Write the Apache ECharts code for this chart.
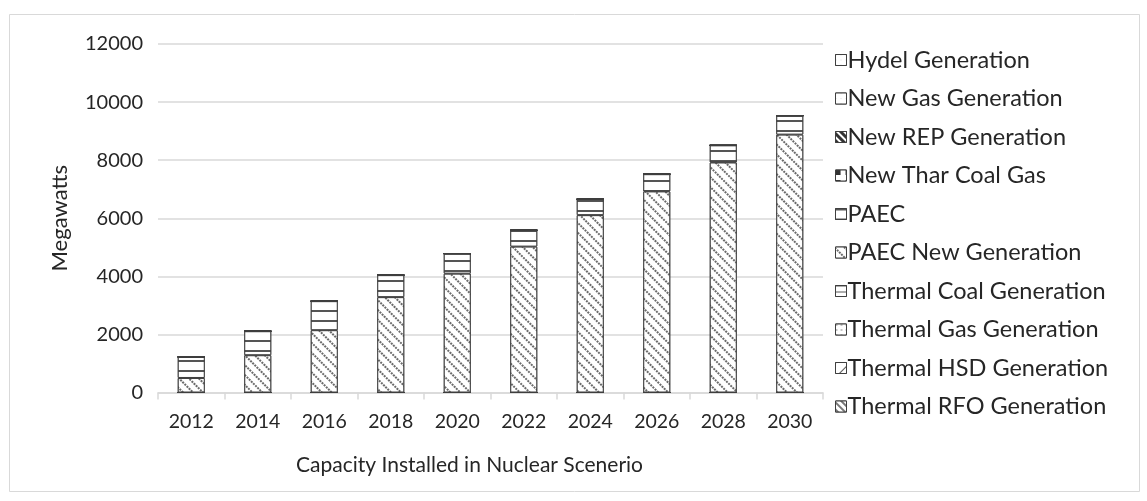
<!DOCTYPE html>
<html>
<head>
<meta charset="utf-8">
<script src="https://cdn.jsdelivr.net/npm/echarts@6/dist/echarts.min.js"></script>
<style>
html,body{margin:0;padding:0;background:#fff;}
#chart{width:1147px;height:501px;}
</style>
</head>
<body>
<div id="chart"></div>
<script>
// ---- data ----
const years = ['2012','2014','2016','2018','2020','2022','2024','2026','2028','2030'];
const legendOrder = ['Hydel Generation','New Gas Generation','New REP Generation','New Thar Coal Gas','PAEC','PAEC New Generation','Thermal Coal Generation','Thermal Gas Generation','Thermal HSD Generation','Thermal RFO Generation'];
const thermalRFO   = [0,0,0,0,0,0,0,0,0,0];
const thermalHSD   = [0,0,0,0,0,0,0,0,0,0];
const thermalGas   = [0,0,0,0,0,0,0,0,0,0];
const thermalCoal  = [0,0,0,0,0,0,0,0,0,0];
const paecNew      = [500,1283,2145,3283,4093,5024,6107,6924,7920,8880];
const paec         = [724,827,1000,758,690,562,548,593,590,654];
const newThar      = [0,0,0,0,0,0,0,0,0,0];
const newREP       = [0,0,0,0,0,0,0,0,0,0];
const newGas       = [0,0,0,0,0,0,0,0,0,0];
const hydel        = [0,0,0,0,0,0,0,0,0,0];
const yTicks = {min:0, max:12000, interval:2000};

const FONT = 'Lato';
const TXT = '#262626';
const chart = echarts.init(document.getElementById('chart'), null, {renderer:'canvas'});

function dec(o){ return Object.assign({symbol:'rect', symbolSize:1, color:'#5a5a5a', backgroundColor:'#ffffff'}, o); }
const decals = {
  'Thermal RFO Generation': dec({dashArrayX:[[1,0]], dashArrayY:[1.2,2.5], rotation:Math.PI/4, color:'#777'}),
  'Thermal HSD Generation': dec({dashArrayX:[[1,0]], dashArrayY:[1,9], rotation:-Math.PI/4}),
  'Thermal Gas Generation': dec({symbol:'circle', symbolSize:0.8, dashArrayX:[2,3], dashArrayY:[2,3], color:'#777'}),
  'Thermal Coal Generation': dec({dashArrayX:[[1,0]], dashArrayY:[1,5]}),
  'PAEC New Generation': dec({dashArrayX:[[2,1]], dashArrayY:[1.3,4.2], rotation:Math.PI/4, color:'#6a6a6a'}),
  'PAEC': dec({dashArrayX:[[1,0]], dashArrayY:[1.2,7.3], color:'#555'}),
  'New Thar Coal Gas': dec({dashArrayX:[5,5], dashArrayY:[5,5], color:'#333'}),
  'New REP Generation': dec({dashArrayX:[[1,0]], dashArrayY:[3,2], rotation:Math.PI/4, color:'#333'}),
  'New Gas Generation': dec({symbol:'circle', symbolSize:0.6, dashArrayX:[1,4], dashArrayY:[1,4], color:'#666'}),
  'Hydel Generation': dec({symbol:'circle', symbolSize:0.6, dashArrayX:[1,4], dashArrayY:[1,4], color:'#666'})
};

const stackData = [
  ['Thermal RFO Generation', thermalRFO],
  ['Thermal HSD Generation', thermalHSD],
  ['Thermal Gas Generation', thermalGas],
  ['Thermal Coal Generation', thermalCoal],
  ['PAEC New Generation', paecNew],
  ['PAEC', paec],
  ['New Thar Coal Gas', newThar],
  ['New REP Generation', newREP],
  ['New Gas Generation', newGas],
  ['Hydel Generation', hydel]
];

const series = stackData.map(([name, data]) => ({
  name, type:'bar', stack:'total', data,
  barWidth:27,
  itemStyle:{color:'#ffffff', borderColor:'#3f3f3f', borderWidth:1, decal:decals[name]},
  emphasis:{disabled:true}
}));

chart.setOption({
  animation:false,
  backgroundColor:'#ffffff',
  graphic:[{type:'rect', shape:{x:9.5, y:14.5, width:1130, height:477}, style:{fill:'none', stroke:'#d9d9d9', lineWidth:1}, silent:true}],
  grid:{left:158, right:324, top:44, bottom:108.5},
  legend:{
    orient:'vertical', left:830, top:43,
    data:legendOrder,
    itemWidth:11, itemHeight:11, itemGap:14.5, icon:'rect',
    textStyle:{fontFamily:FONT, fontSize:23.5, color:TXT, lineHeight:23, padding:[0,0,0,-4]},
    itemStyle:{borderColor:'#3f3f3f', borderWidth:1}
  },
  xAxis:{
    type:'category', data:years,
    name:'Capacity Installed in Nuclear Scenerio', nameLocation:'middle', nameGap:62,
    nameTextStyle:{fontFamily:FONT, fontSize:21, color:TXT, padding:[0,42,0,0]},
    axisLine:{lineStyle:{color:'#d9d9d9', width:1.5}},
    axisTick:{show:true, length:7, lineStyle:{color:'#d9d9d9', width:1.5}},
    axisLabel:{fontFamily:FONT, fontSize:19.5, color:TXT, margin:19}
  },
  yAxis:{
    type:'value', min:yTicks.min, max:yTicks.max, interval:yTicks.interval,
    name:'Megawatts', nameLocation:'middle', nameGap:87, nameRotate:90,
    nameTextStyle:{fontFamily:FONT, fontSize:22, color:TXT},
    axisLine:{show:false}, axisTick:{show:false},
    axisLabel:{fontFamily:FONT, fontSize:20, color:TXT, margin:15, formatter: v => String(v)},
    splitLine:{lineStyle:{color:'#d9d9d9', width:1.5}}
  },
  series
});
</script>
</body>
</html>
